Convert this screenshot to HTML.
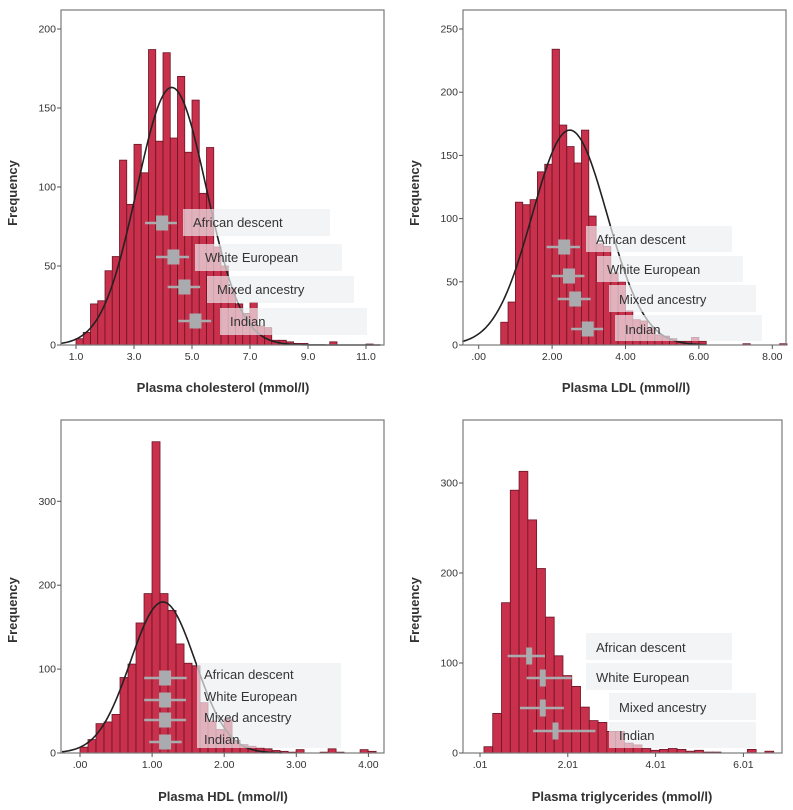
<!DOCTYPE html>
<html><head><meta charset="utf-8">
<style>
html,body{margin:0;padding:0;background:#fff;}
svg{display:block;font-family:"Liberation Sans",Arial,sans-serif;}
.tick{font-size:10.5px;fill:#333;}
.ttl{font-size:13px;font-weight:bold;fill:#333;}
.lg{font-size:13px;fill:#333;}
</style></head>
<body>
<svg id="fig" width="793" height="810" viewBox="0 0 793 810"></svg>
<script>
// ---- Panel 1: cholesterol ----
const cholBinStart = 1.0, cholBinWidth = 0.25;
const cholCounts = [4,8,26,28,47,56,117,89,127,109,187,129,185,131,170,122,155,96,125,62,50,36,26,20,27,12,11,3,3,2,1,1,0,0,0,2,0,0,0,0,0.6];
const cholCurve = [4.3, 1.2, 163]; // mean, sd, peak
const cholXTicks = [1,3,5,7,9,11];
const cholXTickLabels = ["1.0","3.0","5.0","7.0","9.0","11.0"];
const cholYTicks = [0,50,100,150,200];
const cholMean = [3.97,4.36,4.74,5.12];
const cholLo = [3.38,3.76,4.16,4.53];
const cholHi = [4.48,4.90,5.28,5.66];

// ---- Panel 2: LDL ----
const ldlBinStart = 0.6, ldlBinWidth = 0.2;
const ldlCounts = [18,34,113,111,115,137,143,234,174,157,144,170,102,80,78,57,50,27,20,19,14,8,7,5,3,3,6,3,0,0,0,0,0,1,0,0,0,0,1];
const ldlCurve = [2.48, 1.02, 170];
const ldlXTicks = [0,2,4,6,8];
const ldlXTickLabels = [".00","2.00","4.00","6.00","8.00"];
const ldlYTicks = [0,50,100,150,200,250];
const ldlMean = [2.33,2.46,2.63,2.97];
const ldlLo = [1.85,1.99,2.15,2.52];
const ldlHi = [2.76,2.88,3.05,3.39];

// ---- Panel 3: HDL ----
const hdlBinStart = 0.0, hdlBinWidth = 0.111;
const hdlCounts = [7,16,35,37,46,90,106,155,190,371,190,170,130,107,104,60,38,28,40,15,10,8,6,5,3,2,1,4,0,0,1,5,1,0,0,4,2];
const hdlCurve = [1.15, 0.45, 180];
const hdlXTicks = [0,1,2,3,4];
const hdlXTickLabels = [".00","1.00","2.00","3.00","4.00"];
const hdlYTicks = [0,100,200,300];
const hdlMean = [1.18,1.18,1.18,1.18];
const hdlLo = [0.89,0.89,0.89,0.96];
const hdlHi = [1.48,1.47,1.47,1.41];

// ---- Panel 4: triglycerides ----
const tgBinStart = 0.1, tgBinWidth = 0.2;
const tgCounts = [7,44,167,292,313,259,205,151,108,86,74,51,36,34,24,24,11,9,5,3,4,5,4,2,3,1,1,0,0,0,4,0,2];
const tgXTicks = [0.01,2.01,4.01,6.01];
const tgXTickLabels = [".01","2.01","4.01","6.01"];
const tgYTicks = [0,100,200,300];
const tgMean = [1.13,1.44,1.44,1.73];
const tgLo = [0.64,1.07,0.92,1.22];
const tgHi = [1.49,2.10,1.92,2.64];

const groupNames = ["African descent","White European","Mixed ancestry","Indian"];

const NS = "http://www.w3.org/2000/svg";
const svg = document.getElementById('fig');
function mk(tag, attrs, parent){
  const e = document.createElementNS(NS, tag);
  for (const k in attrs) e.setAttribute(k, attrs[k]);
  (parent||svg).appendChild(e);
  return e;
}

const panels = [
 {key:'cholesterol', frame:[61,10,384,345], x0:76, xv0:1, xppu:29, yppu:1.58,
  start:cholBinStart, w:cholBinWidth, counts:cholCounts, curve:cholCurve, cx0:0.5, cx1:11.5,
  xt:cholXTicks, xl:cholXTickLabels, yt:cholYTicks, mean:cholMean, lo:cholLo, hi:cholHi,
  title:"Plasma cholesterol (mmol/l)", titleX:223, titleY:392, freqY:193,
  bands:[[183,209,147,27],[195,244,147,27],[207,276,147,27],[220,308,147,27]],
  textX:[193,205,217,230], textY:[227,262,294,326], markY:[223,257,287,321], mw:12, mh:15},
 {key:'ldl', frame:[463,10,786,345], x0:478.7, xv0:0, xppu:36.7, yppu:1.264,
  start:ldlBinStart, w:ldlBinWidth, counts:ldlCounts, curve:ldlCurve, cx0:-0.45, cx1:6.2,
  xt:ldlXTicks, xl:ldlXTickLabels, yt:ldlYTicks, mean:ldlMean, lo:ldlLo, hi:ldlHi,
  title:"Plasma LDL (mmol/l)", titleX:626, titleY:392, freqY:193,
  bands:[[586,226,146,26],[597,256,146,26],[609,285,147,27],[615,315,147,26]],
  textX:[596,607,619,625], textY:[244,274,304,334], markY:[247,276,299,329], mw:12, mh:15},
 {key:'hdl', frame:[61,420,384,753], x0:80, xv0:0, xppu:72.1, yppu:0.839,
  start:hdlBinStart, w:hdlBinWidth, counts:hdlCounts, curve:hdlCurve, cx0:-0.25, cx1:2.8,
  xt:hdlXTicks, xl:hdlXTickLabels, yt:hdlYTicks, mean:hdlMean, lo:hdlLo, hi:hdlHi,
  title:"Plasma HDL (mmol/l)", titleX:223, titleY:801, freqY:610,
  bands:[[197,663,144,85]],
  textX:[204,204,204,204], textY:[679,701,722,744], markY:[678,700,720,742], mw:12, mh:15},
 {key:'triglycerides', frame:[463,420,782,753], x0:480, xv0:0.01, xppu:43.9, yppu:0.9,
  start:tgBinStart, w:tgBinWidth, counts:tgCounts, curve:null,
  xt:tgXTicks, xl:tgXTickLabels, yt:tgYTicks, mean:tgMean, lo:tgLo, hi:tgHi,
  title:"Plasma triglycerides (mmol/l)", titleX:622, titleY:801, freqY:610,
  bands:[[586,633,146,27],[586,663,146,27],[609,693,147,27],[609,722,147,26]],
  textX:[596,596,619,619], textY:[652,682,712,740], markY:[656,678,708,731], mw:6, mh:17}
];

panels.forEach(p => {
  const [L,T,R,B] = p.frame;
  const g = mk('g', {});
  
  
  const xs = v => p.x0 + (v - p.xv0) * p.xppu;
  const ys = v => B - v * p.yppu;

  const bars = mk('g', {}, g);
  
  
  p.counts.forEach((c, i) => {
    if (c <= 0) return;
    const x1 = xs(p.start + i * p.w), x2 = xs(p.start + (i + 1) * p.w);
    const r = mk('rect', {x:x1, y:ys(c), width:x2 - x1, height:B - ys(c), fill:'#c9304b', stroke:'#6a1526', 'stroke-width':0.8}, bars);
    
    
  });

  if (p.curve) {
    const [mu, sd, pk] = p.curve;
    let d = '';
    const n = 200;
    for (let k = 0; k <= n; k++) {
      const v = p.cx0 + (p.cx1 - p.cx0) * k / n;
      const yv = pk * Math.exp(-0.5 * Math.pow((v - mu) / sd, 2));
      d += (k ? 'L' : 'M') + xs(v).toFixed(2) + ',' + ys(yv).toFixed(2);
    }
    const c = mk('path', {d:d, fill:'none', stroke:'#222', 'stroke-width':1.6}, g);
    
    
  }

  p.bands.forEach(b => {
    const r = mk('rect', {x:b[0], y:b[1], width:b[2], height:b[3], fill:'rgb(238,239,242)', 'fill-opacity':0.68}, g);
    
    
  });

  groupNames.forEach((nm, i) => {
    const y = p.markY[i];
    const wl = mk('line', {x1:xs(p.lo[i]), x2:xs(p.hi[i]), y1:y, y2:y, stroke:'#a9abae', 'stroke-width':2.5}, g);
    
    
    const sq = mk('rect', {x:xs(p.mean[i]) - p.mw/2, y:y - p.mh/2, width:p.mw, height:p.mh, fill:'#a9abae'}, g);
    
    
    const t = mk('text', {x:p.textX[i], y:p.textY[i], class:'lg'}, g);
    t.textContent = nm;
    
    
  });

  const fr = mk('rect', {x:L, y:T, width:R - L, height:B - T, fill:'none', stroke:'#7a7a7a', 'stroke-width':1.2}, g);
  
  

  p.xt.forEach((v, i) => {
    const x = xs(v);
    mk('line', {x1:x, x2:x, y1:B, y2:B + 4, stroke:'#555', 'stroke-width':1}, g);
    const t = mk('text', {x:x, y:B + 15, class:'tick', 'text-anchor':'middle'}, g);
    t.textContent = p.xl[i];
    
    
  });
  p.yt.forEach(v => {
    const y = ys(v);
    mk('line', {x1:L - 4, x2:L, y1:y, y2:y, stroke:'#555', 'stroke-width':1}, g);
    const t = mk('text', {x:L - 5, y:y + 3.5, class:'tick', 'text-anchor':'end'}, g);
    t.textContent = String(v);
    
    
  });

  const xt = mk('text', {x:p.titleX, y:p.titleY, class:'ttl', 'text-anchor':'middle'}, g);
  xt.textContent = p.title;
  
  
  const fx = L < 200 ? 17 : 419;
  const yt = mk('text', {x:fx, y:p.freqY, class:'ttl', 'text-anchor':'middle', transform:'rotate(-90 ' + fx + ' ' + p.freqY + ')'}, g);
  yt.textContent = 'Frequency';
  
  
});
</script>
</body></html>
